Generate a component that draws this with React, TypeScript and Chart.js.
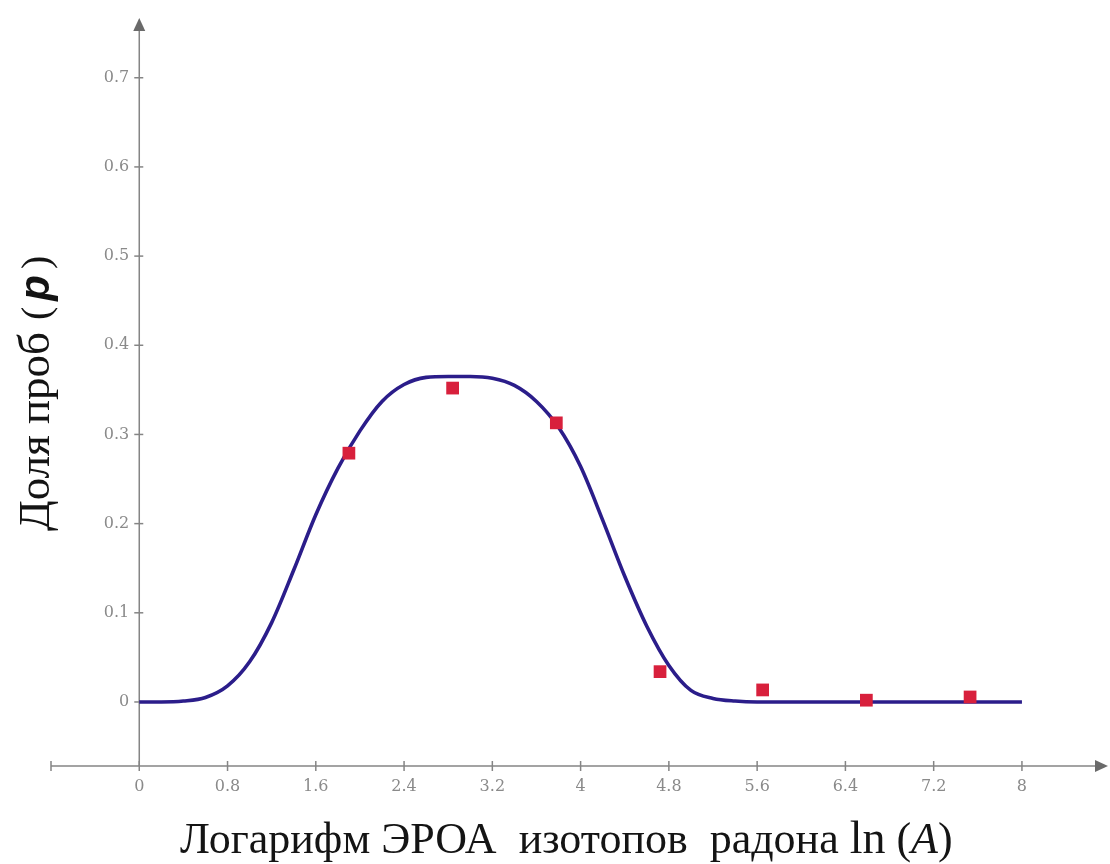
import React, { useEffect, useRef } from "react";
import { Chart, registerables } from "chart.js";

Chart.register(...registerables);

// Fitted curve: share of samples p versus ln(A)
const curveX = [0, 0.2, 0.4, 0.6, 0.8, 1.0, 1.2, 1.4, 1.6, 1.8, 2.0, 2.2, 2.4, 2.6, 2.8, 3.0, 3.2, 3.4, 3.6, 3.8, 4.0, 4.2, 4.4, 4.6, 4.8, 5.0, 5.2, 5.4, 5.6, 6.0, 6.4, 6.8, 7.2, 7.6, 8.0];
const curveP = [0, 0, 0.001, 0.005, 0.018, 0.045, 0.089, 0.148, 0.21, 0.262, 0.304, 0.337, 0.356, 0.364, 0.365, 0.365, 0.363, 0.355, 0.337, 0.308, 0.264, 0.204, 0.141, 0.085, 0.041, 0.013, 0.004, 0.001, 0, 0, 0, 0, 0, 0, 0];

// Observed sample shares
const sampleX = [1.9, 2.84, 3.78, 4.72, 5.65, 6.59, 7.53];
const sampleP = [0.279, 0.352, 0.313, 0.034, 0.0135, 0.002, 0.0056];

// Axis ticks
const xTickValues = [-0.8, 0, 0.8, 1.6, 2.4, 3.2, 4, 4.8, 5.6, 6.4, 7.2, 8];
const xTickLabels = ["", "0", "0.8", "1.6", "2.4", "3.2", "4", "4.8", "5.6", "6.4", "7.2", "8"];
const yTickValues = [0, 0.1, 0.2, 0.3, 0.4, 0.5, 0.6, 0.7];
const yTickLabels = ["0", "0.1", "0.2", "0.3", "0.4", "0.5", "0.6", "0.7"];

const AXIS_COLOR = "#858585";
const TICK_FONT = "16px 'DejaVu Serif', serif";

type Run = { text: string; font: string; gap?: number };

function drawRuns(ctx: CanvasRenderingContext2D, runs: Run[], x: number, y: number) {
  let cx = x;
  for (const r of runs) {
    cx += r.gap || 0;
    ctx.font = r.font;
    ctx.fillText(r.text, cx, y);
    cx += ctx.measureText(r.text).width;
  }
}

const xTitleRuns: Run[] = [
  { text: "Логарифм ЭРОА  изотопов  радона ", font: "44px 'Liberation Serif', serif" },
  { text: "ln", font: "46px 'Liberation Serif', serif" },
  { text: " (", font: "44px 'Liberation Serif', serif" },
  { text: "A", font: "italic 44px 'Liberation Serif', serif" },
  { text: ")", font: "44px 'Liberation Serif', serif" },
];

const yTitleRuns: Run[] = [
  { text: "Доля проб", font: "45px 'Liberation Serif', serif" },
  { text: "(", font: "40px 'Liberation Serif', serif", gap: 12 },
  { text: "p", font: "italic bold 42px 'Liberation Sans', sans-serif", gap: 6 },
  { text: ")", font: "40px 'Liberation Serif', serif", gap: 6 },
];

const axesPlugin = {
  id: "customAxes",
  beforeDatasetsDraw(chart: any) {
    const { ctx, chartArea, scales } = chart;
    const xs = scales.x;
    const ys = scales.y;
    const yAxisX = xs.getPixelForValue(0);
    const xAxisY = chartArea.bottom;
    ctx.save();
    ctx.strokeStyle = AXIS_COLOR;
    ctx.fillStyle = "#6a6a6a";
    ctx.lineWidth = 1.5;

    // horizontal axis with arrow
    ctx.beginPath();
    ctx.moveTo(chartArea.left, xAxisY);
    ctx.lineTo(chartArea.right - 8, xAxisY);
    ctx.stroke();
    ctx.beginPath();
    ctx.moveTo(chartArea.right, xAxisY);
    ctx.lineTo(chartArea.right - 13, xAxisY - 6);
    ctx.lineTo(chartArea.right - 13, xAxisY + 6);
    ctx.closePath();
    ctx.fill();

    // vertical axis with arrow
    ctx.beginPath();
    ctx.moveTo(yAxisX, xAxisY);
    ctx.lineTo(yAxisX, chartArea.top + 8);
    ctx.stroke();
    ctx.beginPath();
    ctx.moveTo(yAxisX, chartArea.top);
    ctx.lineTo(yAxisX - 6, chartArea.top + 13);
    ctx.lineTo(yAxisX + 6, chartArea.top + 13);
    ctx.closePath();
    ctx.fill();

    // x ticks and labels
    ctx.font = TICK_FONT;
    ctx.fillStyle = "#8a8a8a";
    ctx.textAlign = "center";
    ctx.textBaseline = "middle";
    xTickValues.forEach((v, i) => {
      const px = xs.getPixelForValue(v);
      ctx.beginPath();
      ctx.moveTo(px, xAxisY - 5);
      ctx.lineTo(px, xAxisY + 5);
      ctx.stroke();
      if (xTickLabels[i]) ctx.fillText(xTickLabels[i], px, xAxisY + 21);
    });

    // y ticks and labels
    ctx.textAlign = "right";
    ctx.textBaseline = "middle";
    yTickValues.forEach((v, i) => {
      const py = ys.getPixelForValue(v);
      ctx.beginPath();
      ctx.moveTo(yAxisX - 5, py);
      ctx.lineTo(yAxisX + 4, py);
      ctx.stroke();
      ctx.fillText(yTickLabels[i], yAxisX - 10, py);
    });
    ctx.restore();
  },
  afterDraw(chart: any) {
    const { ctx } = chart;
    ctx.save();
    ctx.fillStyle = "#141414";
    ctx.textAlign = "left";
    ctx.textBaseline = "alphabetic";
    drawRuns(ctx, xTitleRuns, 180, 853);

    ctx.translate(49, 531);
    ctx.rotate(-Math.PI / 2);
    drawRuns(ctx, yTitleRuns, 0, 0);
    ctx.restore();
  },
};

export default function App() {
  const canvasRef = useRef<HTMLCanvasElement | null>(null);

  useEffect(() => {
    const prevMargin = document.body.style.margin;
    document.body.style.margin = "0";
    const canvas = canvasRef.current;
    if (!canvas) return;
    const chart = new Chart(canvas, {
      type: "scatter",
      data: {
        datasets: [
          {
            type: "line",
            label: "curve",
            data: curveX.map((x, i) => ({ x, y: curveP[i] })),
            borderColor: "#2b1d8a",
            borderWidth: 3.6,
            pointRadius: 0,
            fill: false,
            cubicInterpolationMode: "monotone",
            order: 2,
          },
          {
            type: "scatter",
            label: "samples",
            data: sampleX.map((x, i) => ({ x, y: sampleP[i] })),
            pointStyle: "rect",
            pointRadius: 9,
            pointBackgroundColor: "#d8203c",
            pointBorderWidth: 0,
            borderWidth: 0,
            order: 1,
          },
        ],
      },
      options: {
        responsive: false,
        animation: false,
        layout: { autoPadding: false, padding: { left: 51, right: 2, top: 18, bottom: 98 } },
        plugins: { legend: { display: false }, tooltip: { enabled: false } },
        scales: {
          x: { type: "linear", display: false, min: -0.8, max: 8.78 },
          y: { type: "linear", display: false, min: -0.0718, max: 0.767 },
        },
      },
      plugins: [axesPlugin],
    });
    return () => {
      chart.destroy();
      document.body.style.margin = prevMargin;
    };
  }, []);

  return (
    <div style={{ position: "absolute", left: 0, top: 0, width: 1110, height: 864, background: "#fff" }}>
      <canvas ref={canvasRef} width={1110} height={864} />
    </div>
  );
}
